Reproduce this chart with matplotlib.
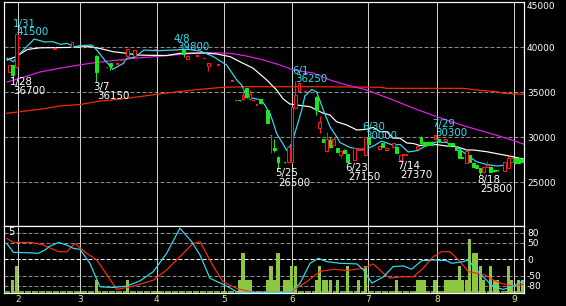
import matplotlib
matplotlib.use('Agg')
import matplotlib.pyplot as plt
from matplotlib.patches import Rectangle

plt.rcParams['axes.unicode_minus'] = False
plt.rcParams['font.family'] = ['DejaVu Sans']

# ---------------- data ----------------
# daily candles (trading-day index, open, high, low, close)
candle_day = [1, 2, 3, 4, 14, 19, 22, 26, 29, 30, 32, 33, 34, 35, 37, 43, 49, 51, 52, 55, 57, 58, 61,
              65, 66, 67, 68, 69, 70, 71, 72, 73, 75, 76, 77, 78, 80, 81, 82, 83, 84, 86,
              89, 90, 91, 92, 93, 94, 95, 96, 97, 98, 100, 101, 102, 103, 104,
              107, 108, 109, 111, 112, 113, 114, 115, 118, 119, 120, 121, 122, 123,
              124, 126, 127, 128, 129, 130, 131, 132, 133, 134, 135, 136, 137, 138, 139, 140, 141,
              143, 144, 145, 146, 147, 148]
candle_open = [37300, 38000, 37850, 40950, 39800, 40070, 39950, 39050, 37730, 38250, 38150, 38560, 38560, 39000, 39000, 39780, 39650, 39700, 38750, 39030, 38780, 37920, 38030,
               36250, 34100, 34120, 34200, 35450, 34220, 34100, 33600, 34220, 33030, 30150, 28850, 27850, 27220, 27200, 27200, 33250, 35180, 35070,
               34500, 31000, 29780, 28510, 29700, 29150, 28780, 28000, 28600, 28100, 27480, 28590, 28590, 28030, 30070,
               28650, 29330, 28590, 28890, 28960, 27480, 28030, 28030, 28670, 30070, 29440, 29510, 29510, 29780,
               29780, 29550, 29330, 29330, 29030, 28590, 27700, 27110, 28030, 27110, 26900, 26560, 26180, 26750, 26730, 26400, 26350,
               26290, 26560, 27290, 27730, 27670, 27560]
candle_high = [38050, 38050, 41500, 41100, 39980, 40600, 39980, 39100, 37760, 38300, 38180, 38590, 38590, 39800, 39750, 39800, 39800, 39750, 39100, 39050, 38800, 38250, 38050,
               36270, 34120, 34150, 35700, 35500, 35250, 34120, 33620, 34250, 33100, 30260, 29780, 27900, 27250, 28950, 33400, 36250, 36100, 35090,
               34550, 32370, 29800, 30620, 30000, 30000, 28800, 28550, 28650, 28150, 28800, 28610, 28610, 30000, 30100,
               29050, 29400, 28880, 29350, 29000, 28050, 28050, 28050, 29050, 30100, 29480, 29550, 29550, 30300,
               29800, 29820, 29350, 29350, 29060, 28620, 27720, 28500, 28050, 27130, 26920, 26600, 26750, 27400, 26760, 26420, 26370,
               27300, 27900, 27700, 27760, 27700, 27580]
candle_low = [37250, 36700, 37800, 40900, 39780, 40050, 39930, 36150, 37700, 37500, 38120, 38530, 38530, 38950, 38780, 39760, 39600, 38900, 38700, 39010, 38760, 37400, 38010,
              36230, 34080, 34050, 34100, 34400, 34150, 34080, 33580, 33750, 31600, 28300, 28400, 26500, 27150, 27150, 27100, 33200, 35150, 35050,
              32480, 30510, 29500, 28500, 28850, 29100, 28380, 27770, 28250, 27150, 27450, 28570, 28570, 28000, 29200,
              28600, 28950, 28550, 28850, 28250, 27370, 28010, 28010, 28650, 29300, 29050, 29120, 29120, 29750,
              29520, 29530, 29050, 29130, 28570, 27650, 27680, 27100, 27250, 26700, 26540, 25800, 26150, 26720, 26150, 26180, 26230,
              26270, 26540, 27270, 27080, 27160, 27270]
candle_close = [38030, 36900, 41450, 41000, 39950, 40560, 39950, 37300, 37730, 37900, 38150, 38560, 38560, 39780, 39700, 39780, 39700, 39200, 39050, 39030, 38780, 38220, 38030,
                36250, 34100, 34080, 34700, 34500, 34780, 34100, 33600, 33780, 31620, 30250, 28600, 27200, 27180, 28900, 33350, 34700, 36000, 35070,
                33030, 31730, 29510, 29810, 28900, 29800, 28400, 28500, 28300, 27300, 28780, 28590, 28590, 29980, 29220,
                29030, 28960, 28840, 29330, 28290, 28030, 28030, 28030, 29030, 29330, 29070, 29140, 29140, 30280,
                29550, 29800, 29070, 29150, 28590, 27670, 27690, 28450, 27290, 26730, 26560, 26180, 26730, 26920, 26180, 26200, 26250,
                27290, 27670, 27670, 27110, 27180, 27290]

# volume (units of trading lots) per day
vol_day = [2, 3, 26, 35, 67, 68, 69, 70, 75, 76, 77, 78, 80, 81, 82, 83, 89, 90, 91, 92, 93, 95, 98, 101, 103,
           112, 118, 119, 120, 123, 126, 127, 128, 129, 130, 131, 132, 133, 134, 135, 136, 137, 139, 140, 141,
           144, 145, 147, 148]
vol_val = [1, 2, 1, 1, 1, 3, 1, 1, 1, 2, 1, 3, 1, 1, 2, 2, 1, 2, 1, 1, 1, 1, 2, 1, 2,
           1, 1, 1, 1, 1, 1, 1, 1, 1, 2, 1, 1, 4, 3, 3, 2, 1, 2, 1, 1,
           2, 1, 1, 1]
vol_max = 5

# moving averages (day index, price)
ma_short_day = [0.4, 2.2, 4.1, 7.4, 8.1, 11.2, 13.5, 15.7, 17.5, 19.6, 21.3, 24.6, 26.1, 28.3, 30.7, 33.7, 34.8, 37.0, 39.6, 43.3,
                48.0, 51.8, 55.7, 59.5, 63.3, 66.2, 67.6, 68.6, 70.5, 73.3, 74.8, 75.7, 76.7, 77.6, 79.1, 80.5, 81.9, 83.4, 84.8,
                85.7, 87.7, 89.1, 91.0, 92.9, 94.8, 95.8, 98.6, 101.5, 103.4, 105.3, 107.7, 110.9, 113.0, 115.3, 118.1, 120.6,
                123.5, 126.3, 129.2, 132.1, 134.9, 137.8, 140.7, 143.5, 145.4, 148.3]
ma_short_val = [38780, 38400, 39330, 40620, 40920, 40590, 40620, 40330, 40440, 40070, 40180, 40260, 39700, 38600, 37560, 38220, 38780, 38890, 39700, 39620,
                39700, 39780, 39590, 38960, 38030, 36370, 35810, 34890, 34370, 34140, 33220, 32670, 31560, 30440, 29480, 28530, 29260, 31180, 33030,
                34590, 35310, 35030, 33030, 31180, 30070, 29420, 28870, 28670, 28720, 29030, 29570, 29140, 29200, 28370, 28530, 29140,
                29480, 29420, 28960, 28030, 27290, 26980, 26810, 26920, 27290, 27420]
ma_mid_day = [0.4, 2.9, 6.2, 9.8, 17.5, 24.1, 27.0, 30.8, 34.7, 37.7, 41.3, 46.1, 49.9, 56.6, 60.4, 64.3, 67.1, 70.9, 74.8, 77.6,
              79.5, 81.4, 83.4, 87.2, 89.1, 91.0, 92.9, 94.8, 97.7, 100.6, 103.4, 105.3, 107.2, 109.2, 111.0, 113.0, 114.9,
              116.8, 118.7, 122.5, 124.4, 126.3, 129.2, 132.1, 134.0, 137.8, 143.5, 148.3]
ma_mid_val = [38590, 38960, 39760, 39940, 39980, 40070, 39870, 39510, 39330, 39140, 39110, 39090, 39330, 39370, 39260, 38960, 38400, 37670, 36370, 35260,
              34260, 33700, 33590, 33400, 33030, 32670, 32480, 31730, 31370, 30810, 30890, 31110, 30640, 30620, 29920, 29890, 29370,
              29310, 29090, 29220, 29140, 29030, 28960, 28590, 28590, 28400, 27980, 27590]
ma_long_day = [0.4, 4.1, 9.8, 17.5, 24.1, 29.9, 36.5, 43.3, 49.9, 57.6, 64.3, 69.0, 73.8, 78.6, 82.4, 88.1, 92.9, 97.7, 103.4,
               107.2, 111.0, 117.8, 123.5, 132.1, 138.8, 143.5, 148.3]
ma_long_val = [36140, 36560, 37260, 37810, 38220, 38480, 38780, 38980, 39200, 39420, 39330, 39030, 38590, 38030, 37480, 37140, 36370, 35810, 35260,
               34700, 34140, 33090, 32290, 31180, 30440, 29890, 29260]
ma_xlong_day = [0.3, 4.1, 9.8, 15.5, 21.3, 27.0, 32.2, 43.3, 51.8, 55.7, 62.3, 69.0, 88.1, 107.2, 109.2, 131.1, 134.9, 140.7, 142.6, 148.3]
ma_xlong_val = [32670, 32840, 33110, 33480, 33640, 34030, 34200, 34780, 35180, 35330, 35560, 35620, 35620, 35560, 35440, 35440, 35260, 35070, 34890, 34780]

# oscillators in the lower panel
osc1_day = [0.3, 2.2, 6.0, 9.3, 11.2, 12.7, 15.1, 17.5, 19.4, 21.3, 24.1, 27.0, 30.8, 34.7, 38.5, 42.3, 46.1, 49.9, 53.3, 55.7,
            58.5, 63.3, 66.2, 70.0, 81.4, 84.3, 87.2, 89.6, 92.0, 95.8, 100.6, 102.5, 104.9, 108.2, 111.0, 113.9, 116.3, 119.2,
            122.5, 126.3, 127.8, 131.1, 132.5, 134.9, 136.8, 139.7, 142.6, 145.4, 148.3]
osc1_val = [48, 21, 20, 18, 28, 40, 51, 43, 33, 30, -12, -83, -85, -81, -65, -37, 18, 94, 53, 12,
            -57, -81, -98, -100, -100, -73, -12, 3, -7, -12, -14, -32, -72, -53, -22, -20, -30, -4,
            -2, -4, -12, -7, -2, -32, -53, -83, -91, -81, -65]
osc2_day = [0.3, 2.2, 7.4, 10.8, 15.1, 17.5, 19.8, 23.2, 26.1, 31.8, 36.6, 42.3, 46.1, 49.9, 53.7, 55.7, 59.5, 62.3, 66.2, 70.9,
            81.4, 86.2, 90.0, 93.9, 97.7, 102.5, 105.3, 108.2, 110.1, 113.0, 116.8, 119.6, 122.5, 124.9, 127.3, 130.2, 132.5,
            134.9, 137.3, 139.7, 142.1, 145.4, 148.3]
osc2_val = [63, 51, 51, 43, 23, 23, 48, 18, -2, -91, -81, -63, -32, 8, 48, 53, -22, -68, -88, -100,
            -100, -68, -37, -30, -34, -27, -14, -42, -57, -53, -53, -27, 8, 23, 23, -7, -37,
            -42, -47, -63, -73, -81, -75]

# labelled highs / lows
mark_day = [3, 2, 26, 49, 83, 78, 98, 103, 113, 123, 136]
mark_date = ['1/31', '1/28', '3/7', '4/8', '6/1', '5/25', '6/23', '6/30', '7/14', '7/29', '8/18']
mark_price = [41500, 36700, 36150, 39800, 36250, 26500, 27150, 30000, 27370, 30300, 25800]
mark_high = [True, False, False, True, True, False, False, True, False, True, False]

# axes labels
price_ticks = [45000, 40000, 35000, 30000, 25000]
osc_ticks = [80, 50, 0, -50, -80]
month_pos = [3.5, 21.3, 43.3, 62.6, 82.0, 103.8, 123.6, 145.6]
month_labels = ['2', '3', '4', '5', '6', '7', '8', '9']

# ---------------- drawing ----------------
W, H, DPI = 566, 306, 100
PX = 72.0 / DPI
UP = '#ff1a1a'
DN = '#1ee61e'
CYAN = '#2ee0f0'
GRID = '#8c8c8c'
VLINE = '#d0d0d0'

fig = plt.figure(figsize=(W / DPI, H / DPI), dpi=DPI, facecolor='black')


def rect(l, t, r, b):
    return [l / W, 1 - b / H, (r - l) / W, (b - t) / H]


ax = fig.add_axes(rect(4, 2.3, 524, 226))
axg = fig.add_axes(rect(4, 226, 524, 293.3))
axv = fig.add_axes(rect(4, 226, 524, 293.3))
axo = fig.add_axes(rect(4, 226, 524, 293.3))

XL = (-0.5, 148.5)
for a in (ax, axg, axv, axo):
    a.set_xlim(*XL)
for a in (axv, axo):
    a.set_facecolor('none')
    a.set_xticks([])
    a.set_yticks([])
    for s in a.spines.values():
        s.set_visible(False)
for a in (ax, axg):
    a.set_facecolor('black')
    for s in a.spines.values():
        s.set_color('white')
        s.set_linewidth(1.2 * PX)

# ---- main panel ----
ax.set_ylim(20144, 45000)
for p in price_ticks[1:]:
    ax.axhline(p, color=GRID, lw=1 * PX, dashes=(4, 2), zorder=0.5)
for m in month_pos:
    ax.axvline(m, color=VLINE, lw=1 * PX, zorder=0.6)

ax.plot(ma_xlong_day, ma_xlong_val, color='#ff2a00', lw=1.2 * PX, zorder=2)
ax.plot(ma_long_day, ma_long_val, color='#e81ee8', lw=1.2 * PX, zorder=2)
ax.plot(ma_mid_day, ma_mid_val, color='white', lw=1.2 * PX, zorder=2)
ax.plot(ma_short_day, ma_short_val, color=CYAN, lw=1.2 * PX, zorder=2)

bw = 0.8
for d, o, h, l, c in zip(candle_day, candle_open, candle_high, candle_low, candle_close):
    col = UP if c >= o else DN
    ax.plot([d, d], [l, h], color=col, lw=1 * PX, zorder=3, solid_capstyle='butt')
    if abs(c - o) < 120:
        mid = (o + c) / 2
        ax.add_patch(Rectangle((d - bw / 2, mid - 80), bw, 160, facecolor=col,
                               edgecolor='none', zorder=4))
    elif c > o:
        ax.add_patch(Rectangle((d - bw / 2, o), bw, c - o, facecolor='black',
                               edgecolor=UP, lw=1 * PX, zorder=4))
    else:
        ax.add_patch(Rectangle((d - bw / 2, c), bw, o - c, facecolor=DN,
                               edgecolor=DN, lw=1 * PX, zorder=4))

LBL = 7.4
for d, ds, p, hi in zip(mark_day, mark_date, mark_price, mark_high):
    if hi:
        ax.annotate(ds, (d, p), xytext=(-3 * PX, 7.2 * PX), textcoords='offset points',
                    color=CYAN, fontsize=LBL, va='baseline', ha='left', zorder=6)
        ax.annotate(str(p), (d, p), xytext=(0.3 * PX, -1.3 * PX), textcoords='offset points',
                    color=CYAN, fontsize=LBL, va='baseline', ha='left', zorder=6)
    else:
        ax.annotate(ds, (d, p), xytext=(-3 * PX, -7.6 * PX), textcoords='offset points',
                    color='white', fontsize=LBL, va='baseline', ha='left', zorder=6)
        ax.annotate(str(p), (d, p), xytext=(0.3 * PX, -16.8 * PX), textcoords='offset points',
                    color='white', fontsize=LBL, va='baseline', ha='left', zorder=6)

ax.yaxis.tick_right()
ax.set_yticks(price_ticks)
ax.set_yticklabels([str(p) for p in price_ticks])
ax.tick_params(axis='y', length=0, pad=3 * PX, colors='white', labelsize=6.5)
ax.get_yticklabels()[0].set_va('top')
ax.set_xticks([])

# ---- lower panel ----
axg.set_ylim(-102.7, 100.6)
axo.set_ylim(-102.7, 100.6)
for v in osc_ticks:
    if v == 0:
        axg.axhline(v, color='white', lw=1 * PX, dashes=(4, 2), zorder=0.5)
    else:
        axg.axhline(v, color=GRID, lw=1 * PX, dashes=(4, 2), zorder=0.5)
for m in month_pos:
    axg.axvline(m, color=VLINE, lw=1 * PX, zorder=0.6)
axg.yaxis.tick_right()
axg.set_yticks(osc_ticks)
axg.set_yticklabels([str(v) for v in osc_ticks])
axg.tick_params(axis='y', length=0, pad=3 * PX, colors='white', labelsize=6.5)
axg.set_xticks(month_pos)
axg.set_xticklabels(month_labels)
axg.tick_params(axis='x', length=0, pad=1.5 * PX, colors='#eee6a0', labelsize=6.5)

axv.set_ylim(0, vol_max)
axv.plot([XL[0], XL[1]], [0.07, 0.07], color='#8dc63f', lw=1.7 * PX,
         linestyle=(0, (6 / 1.7, 1 / 1.7)), zorder=1)
axv.bar(vol_day, vol_val, width=0.9, color='#8dc63f', zorder=2)
axv.text(4.3 / 520, 0.985, str(vol_max), transform=axv.transAxes, color='white',
         fontsize=7, va='top', ha='left')

axo.plot(osc2_day, osc2_val, color='#ff2a10', lw=1.2 * PX)
axo.plot(osc1_day, osc1_val, color=CYAN, lw=1.2 * PX)

fig.savefig('out.png', dpi=DPI, facecolor='black')
